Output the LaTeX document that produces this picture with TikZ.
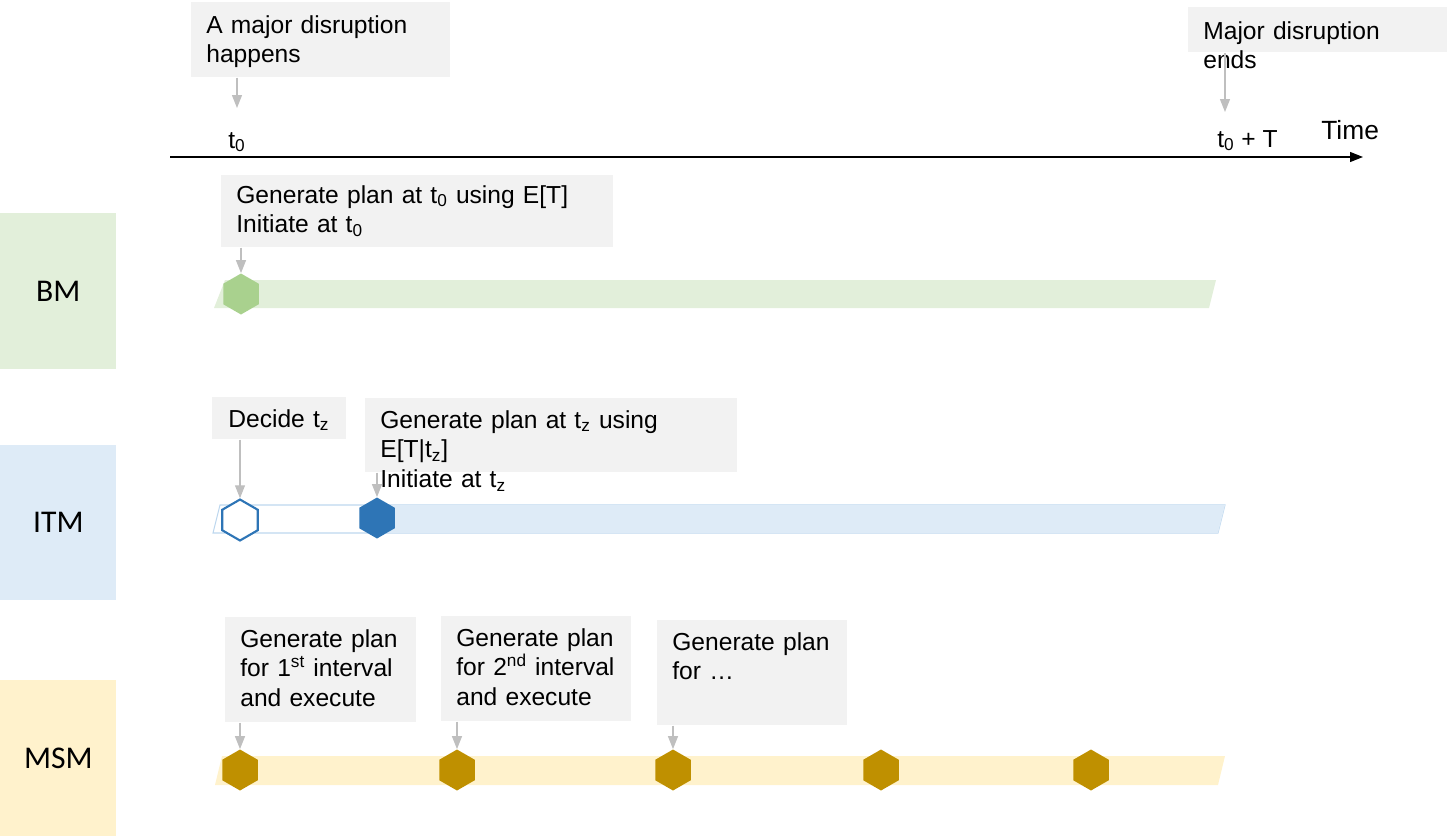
\documentclass[tikz,border=0pt]{standalone}
\usepackage{fontspec}
\setmainfont{Liberation Sans}
\newfontfamily\labelfont{Carlito}
\usetikzlibrary{shapes.geometric, arrows.meta, positioning}
\definecolor{boxgray}{HTML}{F2F2F2}
\definecolor{arrgray}{HTML}{BFBFBF}
\definecolor{bmlight}{HTML}{E2EFDA}
\definecolor{bmdark}{HTML}{A9D18E}
\definecolor{itmlight}{HTML}{DEEBF7}
\definecolor{itmedge}{HTML}{BDD7EE}
\definecolor{itmdark}{HTML}{2E75B6}
\definecolor{msmlight}{HTML}{FFF2CC}
\definecolor{msmdark}{HTML}{BF9000}
\tikzstyle{note} = [rectangle, fill=boxgray, anchor=north west, inner sep=0pt]
\tikzstyle{notetext} = [anchor=base west, inner sep=0pt, text width=8cm, align=left, font=\fontsize{14}{17}\selectfont]
\tikzstyle{ticklabel} = [anchor=base west, inner sep=0pt, font=\fontsize{14}{17}\selectfont]
\tikzstyle{model} = [rectangle, anchor=north west, minimum width=2.32cm, minimum height=3.12cm, font=\labelfont\fontsize{18}{22}\selectfont]
\tikzstyle{hexa} = [regular polygon, regular polygon sides=6, shape border rotate=30, minimum size=0.82cm, inner sep=0pt]
\tikzstyle{pointer} = [draw=arrgray, line width=0.7pt, -{Triangle[length=0.26cm, width=0.2cm]}]
\tikzstyle{timeline} = [line width=0.7pt, -{Triangle[length=0.26cm, width=0.2cm]}]

\begin{document}
\begin{tikzpicture}[x=0.02cm, y=-0.02cm]
\useasboundingbox (0,0) rectangle (1447,836);
% model labels
\node (bm) [model, fill=bmlight] at (0,213) {BM};
\node (itm) [model, fill=itmlight, minimum height=3.10cm] at (0,445) {ITM};
\node (msm) [model, fill=msmlight] at (0,680) {MSM};
% time axis
\coordinate (axisstart) at (170,157);
\coordinate (axisend) at (1363,157);
\coordinate (startmark) at (237,157);
\coordinate (endmark) at (1225,157);
\draw [timeline] (axisstart) -- (axisend);
\node (tzero) [ticklabel] at (228,148) {t\textsubscript{0}};
\node (tend) [ticklabel] at (1217,147) {t\textsubscript{0} + T};
\node (timelabel) [ticklabel, font=\fontsize{15}{18}\selectfont] at (1321,139) {Time};
\node (happens) [note, minimum width=5.18cm, minimum height=1.5cm] at (191,2) {};
\node (happenstext) [notetext] at ([shift={(15,31)}]happens.north west) {A major disruption\\happens};
\node (ends) [note, minimum width=5.18cm, minimum height=0.9cm] at (1188,7) {};
\node (endstext) [notetext] at ([shift={(15,32)}]ends.north west) {Major disruption\\ends};
\draw [pointer, shorten >=0.98cm] (happens.south -| startmark) -- (startmark);
\draw [pointer, shorten >=0.9cm] (ends.south -| endmark) -- (endmark);
% BM
\fill [bmlight] (225,280) -- (1216,280) -- (1209,308) -- (214,308) -- cycle;
\node (bmplan) [note, minimum width=7.84cm, minimum height=1.44cm] at (221,175) {};
\node (bmplantext) [notetext] at ([shift={(15,28)}]bmplan.north west) {Generate plan at t\textsubscript{0} using E[T]\\Initiate at t\textsubscript{0}};
\node (bmhex) [hexa, fill=bmdark] at (241,294) {};
\draw [pointer] (bmhex |- bmplan.south) -- (bmhex.north);
% ITM
\draw [itmedge, line width=0.6pt] (220,505) -- (1225,505) -- (1218,533) -- (213,533) -- cycle;
\fill [itmlight] (377,505) -- (1225,505) -- (1218,533) -- (377,533) -- cycle;
\node (decide) [note, minimum width=2.68cm, minimum height=0.84cm] at (212,397) {};
\node (decidetext) [notetext] at ([shift={(16,30)}]decide.north west) {Decide t\textsubscript{z}};
\node (itmplan) [note, minimum width=7.44cm, minimum height=1.48cm] at (365,398) {};
\node (itmplantext) [notetext] at ([shift={(15,30)}]itmplan.north west) {Generate plan at t\textsubscript{z} using\\E[T|t\textsubscript{z}]\\Initiate at t\textsubscript{z}};
\node (decidehex) [hexa, draw=itmdark, line width=1.2pt, fill=white] at (240,520) {};
\node (starthex) [hexa, fill=itmdark] at (377,518) {};
\draw [pointer] (decidehex |- decide.south) -- (decidehex.north);
\draw [pointer] (starthex |- itmplan.south) -- (starthex.north);
% MSM
\fill [msmlight] (222,756) -- (1225,756) -- (1218,785) -- (215,785) -- cycle;
\node (first) [note, minimum width=3.82cm, minimum height=2.10cm] at (225,617) {};
\node (firsttext) [notetext] at ([shift={(15,30)}]first.north west) {Generate plan\\for 1\textsuperscript{st} interval\\and execute};
\node (second) [note, minimum width=3.80cm, minimum height=2.10cm] at (441,616) {};
\node (secondtext) [notetext] at ([shift={(15,30)}]second.north west) {Generate plan\\for 2\textsuperscript{nd} interval\\and execute};
\node (third) [note, minimum width=3.80cm, minimum height=2.10cm] at (657,620) {};
\node (thirdtext) [notetext] at ([shift={(15,30)}]third.north west) {Generate plan\\for …};
\node (hexone) [hexa, fill=msmdark] at (240,770) {};
\node (hextwo) [hexa, fill=msmdark] at (457,770) {};
\node (hexthree) [hexa, fill=msmdark] at (673,770) {};
\node (hexfour) [hexa, fill=msmdark] at (881,770) {};
\node (hexfive) [hexa, fill=msmdark] at (1091,770) {};
\draw [pointer] (hexone |- first.south) -- (hexone.north);
\draw [pointer] (hextwo |- second.south) -- (hextwo.north);
\draw [pointer] (hexthree |- third.south) -- (hexthree.north);
\end{tikzpicture}
\end{document}
